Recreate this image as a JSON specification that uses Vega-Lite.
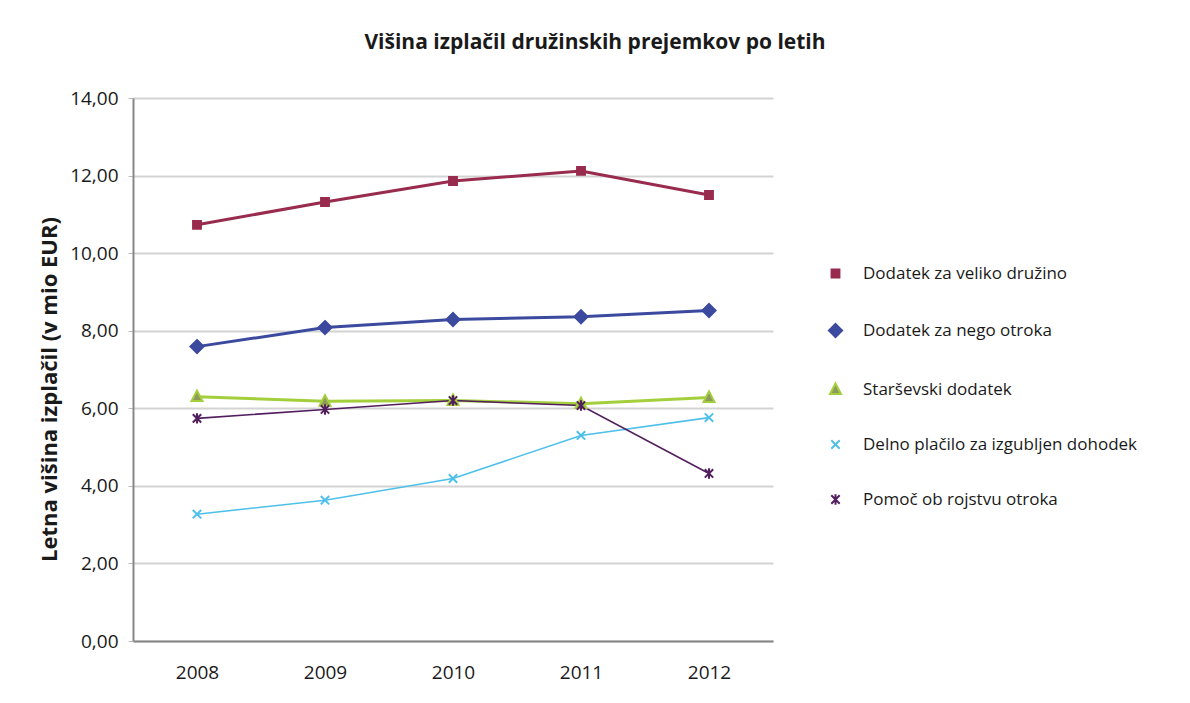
{
  "$schema": "https://vega.github.io/schema/vega-lite/v6.json",
  "width": 640,
  "height": 543,
  "autosize": {"type": "none"},
  "padding": {"left": 133, "top": 98, "right": 417, "bottom": 62},
  "background": "white",
  "title": {
    "text": "Višina izplačil družinskih prejemkov po letih",
    "anchor": "middle",
    "frame": "group",
    "dx": 142,
    "offset": 36,
    "font": "Open Sans",
    "fontSize": 21,
    "fontWeight": "bold",
    "color": "#1a1a1a"
  },
  "data": {
    "values": [
      {"leto": "2008", "serija": "Dodatek za veliko družino", "debelina": "debela", "vrednost": 10.73},
      {"leto": "2009", "serija": "Dodatek za veliko družino", "debelina": "debela", "vrednost": 11.32},
      {"leto": "2010", "serija": "Dodatek za veliko družino", "debelina": "debela", "vrednost": 11.86},
      {"leto": "2011", "serija": "Dodatek za veliko družino", "debelina": "debela", "vrednost": 12.12},
      {"leto": "2012", "serija": "Dodatek za veliko družino", "debelina": "debela", "vrednost": 11.5},
      {"leto": "2008", "serija": "Dodatek za nego otroka", "debelina": "debela", "vrednost": 7.59},
      {"leto": "2009", "serija": "Dodatek za nego otroka", "debelina": "debela", "vrednost": 8.08},
      {"leto": "2010", "serija": "Dodatek za nego otroka", "debelina": "debela", "vrednost": 8.29},
      {"leto": "2011", "serija": "Dodatek za nego otroka", "debelina": "debela", "vrednost": 8.36},
      {"leto": "2012", "serija": "Dodatek za nego otroka", "debelina": "debela", "vrednost": 8.52},
      {"leto": "2008", "serija": "Starševski dodatek", "debelina": "debela", "vrednost": 6.3},
      {"leto": "2009", "serija": "Starševski dodatek", "debelina": "debela", "vrednost": 6.18},
      {"leto": "2010", "serija": "Starševski dodatek", "debelina": "debela", "vrednost": 6.2},
      {"leto": "2011", "serija": "Starševski dodatek", "debelina": "debela", "vrednost": 6.12},
      {"leto": "2012", "serija": "Starševski dodatek", "debelina": "debela", "vrednost": 6.28},
      {"leto": "2008", "serija": "Delno plačilo za izgubljen dohodek", "debelina": "tanka", "vrednost": 3.27},
      {"leto": "2009", "serija": "Delno plačilo za izgubljen dohodek", "debelina": "tanka", "vrednost": 3.63},
      {"leto": "2010", "serija": "Delno plačilo za izgubljen dohodek", "debelina": "tanka", "vrednost": 4.19},
      {"leto": "2011", "serija": "Delno plačilo za izgubljen dohodek", "debelina": "tanka", "vrednost": 5.3},
      {"leto": "2012", "serija": "Delno plačilo za izgubljen dohodek", "debelina": "tanka", "vrednost": 5.76},
      {"leto": "2008", "serija": "Pomoč ob rojstvu otroka", "debelina": "tanka", "vrednost": 5.74},
      {"leto": "2009", "serija": "Pomoč ob rojstvu otroka", "debelina": "tanka", "vrednost": 5.97},
      {"leto": "2010", "serija": "Pomoč ob rojstvu otroka", "debelina": "tanka", "vrednost": 6.2},
      {"leto": "2011", "serija": "Pomoč ob rojstvu otroka", "debelina": "tanka", "vrednost": 6.07},
      {"leto": "2012", "serija": "Pomoč ob rojstvu otroka", "debelina": "tanka", "vrednost": 4.32}
    ]
  },
  "encoding": {
    "x": {
      "field": "leto",
      "type": "ordinal",
      "scale": {"type": "point", "padding": 0.5},
      "axis": {
        "title": null,
        "labelAngle": 0,
        "labelPadding": 22,
        "ticks": false,
        "domainColor": "#888888",
        "domainWidth": 2,
        "grid": false,
        "labelFont": "Open Sans",
        "labelFontSize": 19,
        "labelColor": "#1a1a1a"
      }
    },
    "y": {
      "field": "vrednost",
      "type": "quantitative",
      "scale": {"domain": [0, 14], "nice": false},
      "axis": {
        "title": "Letna višina izplačil (v mio EUR)",
        "titleFont": "Open Sans",
        "titleFontSize": 22,
        "titleFontWeight": "bold",
        "titleColor": "#1a1a1a",
        "titlePadding": 8,
        "titleY": 291,
        "values": [0, 2, 4, 6, 8, 10, 12, 14],
        "labelExpr": "replace(format(datum.value, '.2f'), '.', ',')",
        "labelFont": "Open Sans",
        "labelFontSize": 19,
        "labelColor": "#1a1a1a",
        "labelPadding": 10,
        "tickSize": 5,
        "tickColor": "#BBBBBB",
        "domainColor": "#888888",
        "domainWidth": 2,
        "gridColor": "#D3D3D3",
        "gridWidth": 2
      }
    },
    "stroke": {
      "field": "serija",
      "type": "nominal",
      "scale": {
        "domain": ["Dodatek za veliko družino", "Dodatek za nego otroka", "Starševski dodatek", "Delno plačilo za izgubljen dohodek", "Pomoč ob rojstvu otroka"],
        "range": ["#982B4E", "#3B4A9E", "#A4CF3C", "#4EC0EA", "#521E5E"]
      },
      "legend": {"title": null}
    }
  },
  "layer": [
    {
      "transform": [{"filter": "datum.debelina == 'debela'"}],
      "mark": {"type": "line", "strokeWidth": 3}
    },
    {
      "transform": [{"filter": "datum.debelina == 'tanka'"}],
      "mark": {"type": "line", "strokeWidth": 1.6}
    },
    {
      "mark": {"type": "point", "filled": false, "opacity": 1, "strokeWidth": 2, "size": 110},
      "encoding": {
        "shape": {
          "field": "serija",
          "type": "nominal",
          "scale": {
            "domain": ["Dodatek za veliko družino", "Dodatek za nego otroka", "Starševski dodatek", "Delno plačilo za izgubljen dohodek", "Pomoč ob rojstvu otroka"],
            "range": ["M-0.75,-0.75L0.75,-0.75L0.75,0.75L-0.75,0.75Z", "M0,-1.25L1.25,0L0,1.25L-1.25,0Z", "M0,-1.15L1.05,0.85L-1.05,0.85Z", "M-0.8,-0.8L0.8,0.8M-0.8,0.8L0.8,-0.8", "M-0.8,-0.8L0.8,0.8M-0.8,0.8L0.8,-0.8M0,-1L0,1"]
          },
          "legend": null
        },
        "fill": {
          "field": "serija",
          "type": "nominal",
          "scale": {
            "domain": ["Dodatek za veliko družino", "Dodatek za nego otroka", "Starševski dodatek", "Delno plačilo za izgubljen dohodek", "Pomoč ob rojstvu otroka"],
            "range": ["#982B4E", "#3B4A9E", "#8E9A5C", "transparent", "transparent"]
          },
          "legend": null
        }
      }
    }
  ],
  "config": {
    "view": {"stroke": null},
    "legend": {
      "orient": "none",
      "legendX": 694,
      "legendY": 167,
      "rowPadding": 37,
      "symbolSize": 110,
      "symbolStrokeWidth": 2,
      "labelFont": "Open Sans",
      "labelFontSize": 17,
      "labelColor": "#1a1a1a",
      "labelOffset": 19,
      "labelLimit": 400
    }
  }
}
